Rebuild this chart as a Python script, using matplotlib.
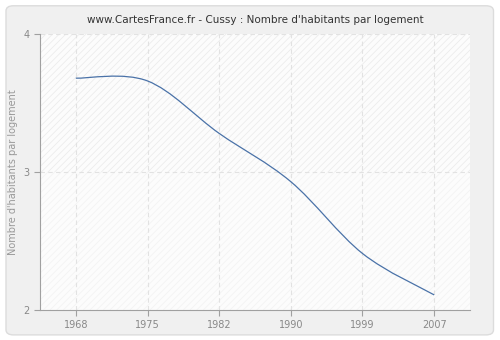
import matplotlib
matplotlib.use("Agg")
import matplotlib.pyplot as plt
import numpy as np
from matplotlib.patches import FancyBboxPatch, Rectangle
from matplotlib.path import Path
from matplotlib.patches import PathPatch

# Nombre d'habitants par logement - Cussy
annees = ["1968", "1975", "1982", "1990", "1999", "2007"]
valeurs = [3.68, 3.66, 3.28, 2.93, 2.41, 2.11]
y_ticks = [2, 3, 4]

fig = plt.figure(figsize=(5, 3.4), dpi=100)
fig.patch.set_facecolor("white")

# cadre arrondi gris
cadre = FancyBboxPatch((0.012, 0.015), 0.975, 0.968, boxstyle="round,pad=0,rounding_size=0.015",
                       transform=fig.transFigure, facecolor="#f0f0f0", edgecolor="#dcdcdc", lw=1,
                       zorder=-10)
fig.patches.append(cadre)

ax = fig.add_axes([0.08, 0.088, 0.86, 0.812])
ax.set_facecolor("#fcfcfc")
x = np.arange(len(annees))
ax.set_xlim(-0.5, 5.5)
ax.set_ylim(2, 4)

# fond hachuré
plt.rcParams["hatch.linewidth"] = 0.6
ax.add_patch(Rectangle((-0.5, 3), 6, 1, facecolor="none", edgecolor="#ececec", hatch="/////", lw=0, zorder=0))
ax.add_patch(Rectangle((-0.5, 2), 6, 1, facecolor="none", edgecolor="#f3f3f3", hatch="/////", lw=0, zorder=0))

# courbe lissée (Catmull-Rom -> Bézier)
pts = np.column_stack([x, valeurs]).astype(float)
verts = [tuple(pts[0])]
codes = [Path.MOVETO]
for i in range(len(pts) - 1):
    p0 = pts[i - 1] if i > 0 else pts[i]
    p1, p2 = pts[i], pts[i + 1]
    p3 = pts[i + 2] if i + 2 < len(pts) else pts[i + 1]
    c1 = p1 + (p2 - p0) / 6
    c2 = p2 - (p3 - p1) / 6
    verts += [tuple(c1), tuple(c2), tuple(p2)]
    codes += [Path.CURVE4] * 3
ax.add_patch(PathPatch(Path(verts, codes), facecolor="none", edgecolor="#4a72a8", lw=0.9, zorder=3))

for xi in x:
    ax.axvline(xi, color="#e2e2e2", lw=0.8, ls=(0, (4, 3)), zorder=1)
ax.axhline(3, color="#e2e2e2", lw=0.8, ls=(0, (4, 3)), zorder=1)
ax.axhline(4, color="#e2e2e2", lw=0.8, ls=(0, (4, 3)), zorder=1)

ax.set_xticks(x)
ax.set_xticklabels(annees)
ax.set_yticks(y_ticks)
for s in ["top", "right"]:
    ax.spines[s].set_visible(False)
for s in ["left", "bottom"]:
    ax.spines[s].set_color("#a0a0a0")
ax.tick_params(colors="#a0a0a0", labelcolor="#888888", labelsize=7, length=4, width=0.8)
ax.set_ylabel("Nombre d'habitants par logement", fontsize=7, color="#999999")
ax.set_title("www.CartesFrance.fr - Cussy : Nombre d'habitants par logement", fontsize=7.5, color="#333333", pad=8)

fig.savefig("out.png", dpi=100, facecolor=fig.get_facecolor())
